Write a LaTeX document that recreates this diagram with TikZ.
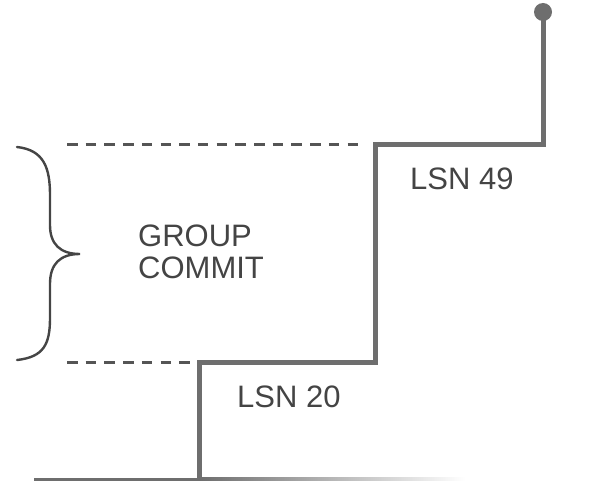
\documentclass[tikz,border=0pt]{standalone}
\usepackage{fontspec}
\setmainfont{Liberation Sans}
\begin{document}
\begin{tikzpicture}[x=1pt,y=-1pt,
  stair/.style={draw=stairgray,line width=5pt,line join=miter},
  guide/.style={draw=dashgray,line width=3pt,dash pattern=on 10.5pt off 8.2pt},
  bracestyle/.style={draw=bracegray,line width=2.4pt,line cap=round},
  label/.style={text=textgray,font=\fontsize{31}{32}\selectfont,inner sep=0pt,anchor=base west,align=left}]
\definecolor{stairgray}{HTML}{6E6E6E}
\definecolor{dashgray}{HTML}{555555}
\definecolor{bracegray}{HTML}{454545}
\definecolor{textgray}{HTML}{444444}
\useasboundingbox (0,0) rectangle (611,481);
% base line fading out to the right
\fill[stairgray] (34,477.5) rectangle (200,480.5);
\shade[left color=stairgray,right color=white] (200,477.5) rectangle (465,480.5);
% step corners
\coordinate (s0) at (199,478);
\coordinate (s1) at (199,362);
\coordinate (s2) at (375,362);
\coordinate (s3) at (375,145);
\coordinate (s4) at (543,145);
\coordinate (s5) at (543,12);
\draw[stair] (s0) -- (s1) -- (s2) -- (s3) -- (s4) -- (s5);
\fill[stairgray] (s5) circle (9);
% dashed guides
\coordinate (g1) at (67,145);
\coordinate (g2) at (360,145);
\coordinate (g3) at (67,362);
\coordinate (g4) at (190,362);
\draw[guide] (g1) -- (g2);
\draw[guide] (g3) -- (g4);
% brace
\draw[bracestyle] (17,147) .. controls (44,150) and (50,168) .. (50,195)
  -- (50,225) .. controls (50,244) and (60,254) .. (80,254)
  .. controls (60,254) and (50,264) .. (50,284)
  -- (50,318) .. controls (50,344) and (44,357) .. (17,360);
% labels (base anchor sits on the last line)
\node[label] (gc) at (138,279) {GROUP\\COMMIT};
\node[label] (l20) at (237,407) {LSN 20};
\node[label] (l49) at (410,190) {LSN 49};
\end{tikzpicture}
\end{document}
